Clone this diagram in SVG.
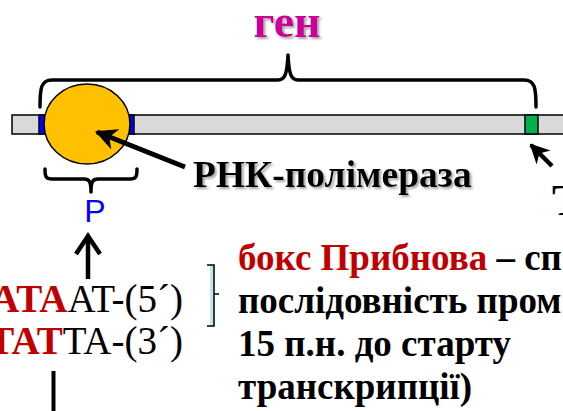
<svg xmlns="http://www.w3.org/2000/svg" width="563" height="411" viewBox="0 0 563 411">
  <defs>
    <filter id="shadow" filterUnits="userSpaceOnUse" x="0" y="0" width="563" height="411">
      <feDropShadow dx="2" dy="2" stdDeviation="1.2" flood-color="#808080" flood-opacity="0.7"/>
    </filter>
    <marker id="head" viewBox="0 0 10 10" refX="9" refY="5" markerWidth="4.4" markerHeight="4.4" orient="auto" markerUnits="strokeWidth">
      <path d="M0,0 L10,5 L0,10 L3,5 Z" fill="#000"/>
    </marker>
  </defs>
  <style>
    .brace { fill: none; stroke: #000; stroke-width: 3.5; stroke-linecap: round; stroke-linejoin: round; }
    .seg { stroke: #000; stroke-width: 1.5; }
  </style>

  <!-- DNA strand with promoter and terminator regions -->
  <g id="dna">
    <rect class="seg" x="12" y="115" width="560" height="19" fill="#d9d9d9"/>
    <rect class="seg" x="39" y="115" width="95" height="19" fill="#0000ff"/>
    <rect class="seg" x="525" y="115" width="13" height="19" fill="#00b050"/>
  </g>

  <!-- gene label and brace -->
  <g id="gene">
    <path class="brace" d="M40,107 C40,88 41,80 52,80 H278 C285,80 287,74 288,55 C289,74 291,80 298,80 H524 C535,80 536,88 536,107"/>
    <text x="287" y="37" font-family="'Liberation Serif', 'Times New Roman', serif" font-weight="bold" font-size="46" text-anchor="middle" fill="#cc0099" filter="url(#shadow)">ген</text>
  </g>

  <!-- RNA polymerase -->
  <g id="polymerase">
    <ellipse cx="87" cy="124" rx="43" ry="40" fill="#ffc000" stroke="#000" stroke-width="1.5"/>
    <text x="193" y="187" font-family="'Liberation Serif', 'Times New Roman', serif" font-weight="bold" font-size="37.5" fill="#000" filter="url(#shadow)">РНК-полімераза</text>
  </g>

  <!-- promoter label -->
  <g id="promoter">
    <path class="brace" d="M45,169 C45,177 46,179 52,179 H84 C89,179 91,181 91,192 C91,181 93,179 98,179 H130 C136,179 137,177 137,169"/>
    <text x="95" y="222" font-family="'Liberation Sans', Arial, sans-serif" font-size="32" text-anchor="middle" fill="#0000ff">P</text>
  </g>

  <!-- terminator label -->
  <g id="terminator">
    <text x="552" y="215" font-family="'Liberation Serif', 'Times New Roman', serif" font-weight="bold" font-size="45" fill="#000">Т</text>
  </g>

  <!-- Pribnow box sequence -->
  <g id="sequence" font-family="'Liberation Serif', 'Times New Roman', serif" font-size="39">
    <text x="183" y="312" text-anchor="end"><tspan font-weight="bold" fill="#c00000">ATA</tspan><tspan fill="#000">AT-(5´)</tspan></text>
    <text x="183" y="354" text-anchor="end"><tspan font-weight="bold" fill="#c00000">TAT</tspan><tspan fill="#000">TA-(3´)</tspan></text>
    <rect x="210" y="265" width="4" height="61" fill="#c5e6ea"/>
    <path d="M207,265 H214 V326 H207 M214,294 H219" fill="none" stroke="#000" stroke-width="1.5"/>
  </g>

  <!-- Pribnow box description -->
  <g id="description" font-family="'Liberation Serif', 'Times New Roman', serif" font-weight="bold" font-size="37" fill="#000">
    <text x="238" y="270"><tspan fill="#c00000">бокс Прибнова</tspan><tspan> – сп</tspan></text>
    <text x="238" y="313">послідовність пром</text>
    <text x="238" y="356">15 п.н. до старту</text>
    <text x="238" y="399">транскрипції)</text>
  </g>

  <!-- connectors -->
  <g id="connectors">
    <line x1="185" y1="167" x2="97" y2="132" stroke="#000" stroke-width="5" marker-end="url(#head)"/>
    <line x1="552" y1="166" x2="531" y2="145" stroke="#000" stroke-width="4.5" marker-end="url(#head)"/>
    <path d="M88,279 V236 M76,254 L88,236 L100,254" fill="none" stroke="#000" stroke-width="4.5" stroke-linejoin="miter"/>
    <line x1="53.5" y1="371" x2="53.5" y2="411" stroke="#000" stroke-width="4"/>
  </g>
</svg>
